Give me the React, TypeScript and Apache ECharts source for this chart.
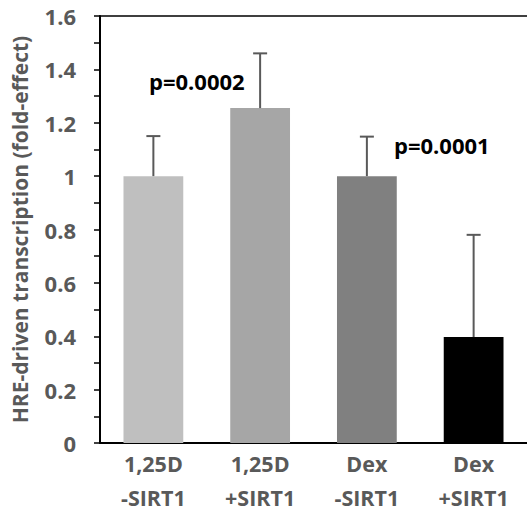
import React, { useEffect, useRef } from "react";
import * as echarts from "echarts";

const treatments = ["1,25D", "1,25D", "Dex", "Dex"];
const sirt1 = ["-SIRT1", "+SIRT1", "-SIRT1", "+SIRT1"];
const values = [1.0, 1.255, 1.0, 0.397];
const errors = [0.15, 0.205, 0.148, 0.383];
const barColors = ["#bfbfbf", "#a6a6a6", "#808080", "#000000"];
const yTicks = { min: 0, max: 1.6, interval: 0.2 };
const annotations = [
  { text: "p=0.0002", x: 149, y: 70 },
  { text: "p=0.0001", x: 394, y: 134 },
];

const FONT = "'Open Sans'";
const GRAY = "#595959";

const catLabels = treatments.map((t, i) => `${t} ${sirt1[i]}`);

export default function App() {
  const ref = useRef<HTMLDivElement>(null);
  useEffect(() => {
    document.body.style.margin = "0";
    const chart = echarts.init(ref.current!, null, { renderer: "svg" });
    const labelStyle = {
      fontFamily: FONT,
      fontWeight: "bold",
      fontSize: 21.5,
      color: GRAY,
      lineHeight: 22,
    };
    chart.setOption({
      animation: false,
      backgroundColor: "#ffffff",
      grid: { left: 100, right: 0, top: 16, bottom: 69, containLabel: false, outerBoundsMode: "none" },
      xAxis: [
        {
          type: "category",
          data: catLabels,
          position: "bottom",
          axisLine: { show: true, lineStyle: { color: "#000", width: 2 } },
          axisTick: { show: false },
          axisLabel: {
            ...labelStyle,
            margin: 9,
            formatter: (_: string, i: number) => treatments[i],
          },
        },
        {
          type: "category",
          data: catLabels,
          position: "bottom",
          axisLine: { show: false },
          axisTick: { show: false },
          axisLabel: {
            ...labelStyle,
            margin: 43,
            formatter: (_: string, i: number) => sirt1[i],
          },
        },
        {
          type: "category",
          data: catLabels,
          position: "top",
          axisLine: { show: true, lineStyle: { color: "#000", width: 1.5 } },
          axisTick: { show: false },
          axisLabel: { show: false },
        },
      ],
      yAxis: {
        type: "value",
        min: yTicks.min,
        max: yTicks.max,
        interval: yTicks.interval,
        name: "HRE-driven transcription (fold-effect)",
        nameLocation: "middle",
        nameRotate: 90,
        nameGap: 70,
        nameTextStyle: {
          fontFamily: FONT,
          fontWeight: "bold",
          fontSize: 21,
          color: GRAY,
        },
        axisLine: { show: true, lineStyle: { color: "#000", width: 2 } },
        axisTick: { show: true, length: 6, lineStyle: { color: "#000", width: 1.5 } },
        minorTick: { show: true, splitNumber: 2, length: 6, lineStyle: { color: "#000", width: 1.5 } },
        splitLine: { show: false },
        axisLabel: {
          fontFamily: FONT,
          fontWeight: "bold",
          fontSize: 22,
          color: GRAY,
          margin: 24,
          formatter: (v: number) => (Number.isInteger(v) ? String(v) : v.toFixed(1)),
        },
      },
      series: [
        {
          type: "bar",
          barWidth: "56%",
          data: values.map((v, i) => ({ value: v, itemStyle: { color: barColors[i] } })),
        },
        {
          type: "custom",
          data: values.map((v, i) => [i, v, errors[i]]),
          z: 5,
          renderItem: (params: any, api: any) => {
            const i = api.value(0);
            const v = api.value(1);
            const e = api.value(2);
            const base = api.coord([i, v]);
            const top = api.coord([i, v + e]);
            const style = { stroke: GRAY, lineWidth: 2 };
            return {
              type: "group",
              children: [
                { type: "line", shape: { x1: base[0], y1: base[1], x2: top[0], y2: top[1] }, style },
                { type: "line", shape: { x1: top[0] - 7, y1: top[1], x2: top[0] + 7, y2: top[1] }, style },
              ],
            };
          },
        },
      ],
      graphic: annotations.map((a) => ({
        type: "text",
        left: a.x,
        top: a.y,
        style: {
          text: a.text,
          fontFamily: FONT,
          fontWeight: "bold",
          fontSize: 22,
          fill: "#000",
        },
      })),
    });
    return () => chart.dispose();
  }, []);
  return <div ref={ref} style={{ width: 527, height: 512 }} />;
}
